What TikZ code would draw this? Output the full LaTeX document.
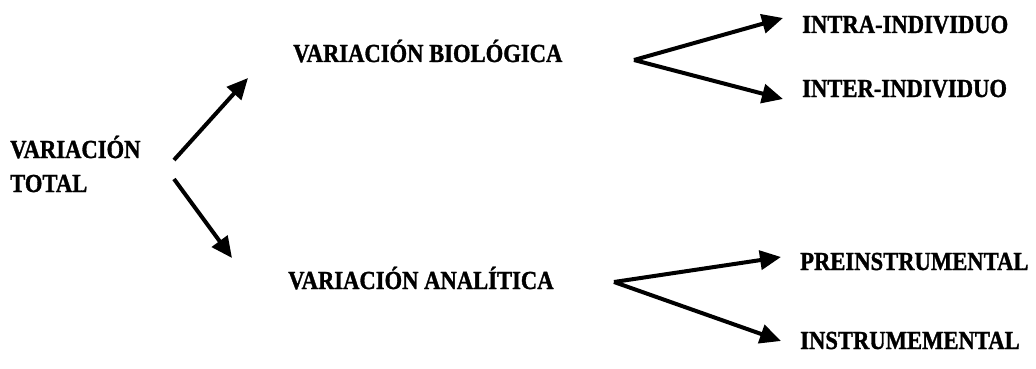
\documentclass[tikz,border=0pt]{standalone}
\usepackage{fontspec}
\setmainfont{Liberation Serif}[FakeStretch=0.87,BoldFeatures={FakeBold=1.2}]
\usetikzlibrary{arrows.meta}
\begin{document}
\begin{tikzpicture}[x=1pt,y=-1pt,
  lab/.style={anchor=base west,inner sep=0pt,font=\fontsize{26}{33}\selectfont\bfseries},
  conn/.style={line width=4pt,-{Triangle[length=21pt,width=19pt]},shorten >=0pt}]
\useasboundingbox (0,0) rectangle (1036,369);
\node[lab] (var) at (10,158) {VARIACIÓN};
\node[lab] (tot) at (10,192) {TOTAL};
\node[lab] (bio) at (293,62) {VARIACIÓN BIOLÓGICA};
\node[lab] (ana) at (288,289) {VARIACIÓN ANALÍTICA};
\node[lab] (intra) at (802,33) {INTRA-INDIVIDUO};
\node[lab] (inter) at (802,97) {INTER-INDIVIDUO};
\node[lab] (pre) at (800,270) {PREINSTRUMENTAL};
\node[lab] (ins) at (800,349) {INSTRUMEMENTAL};
\coordinate (t1) at (174,160);
\coordinate (t2) at (174,179);
\coordinate (b1) at (248,78);
\coordinate (a1) at (232,258);
\coordinate (fb) at (634,60);
\coordinate (fa) at (614,282);
\coordinate (e1) at (783,18);
\coordinate (e2) at (783,99);
\coordinate (e3) at (781,257);
\coordinate (e4) at (781,341);
\draw[conn] (t1) -- (b1);
\draw[conn] (t2) -- (a1);
\draw[conn] (fb) -- (e1);
\draw[conn] (fb) -- (e2);
\draw[conn] (fa) -- (e3);
\draw[conn] (fa) -- (e4);
\end{tikzpicture}
\end{document}
